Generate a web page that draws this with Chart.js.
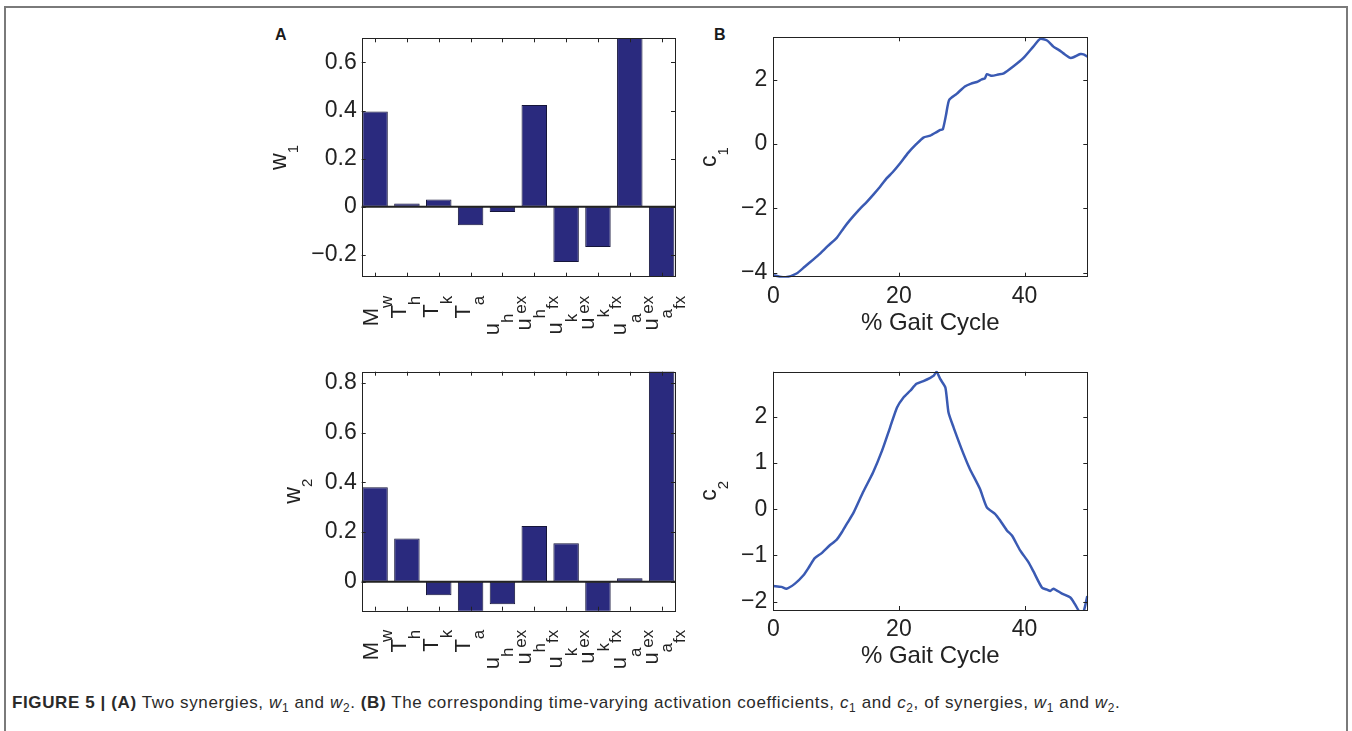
<!DOCTYPE html>
<html>
<head>
<meta charset="utf-8">
<script src="https://cdn.jsdelivr.net/npm/chart.js@4.4.1/dist/chart.umd.min.js"></script>
<style>
  html, body { margin: 0; padding: 0; background: #fff; }
  body { width: 1352px; height: 731px; position: relative; overflow: hidden;
         font-family: "Liberation Sans", Arial, Helvetica, sans-serif; }
  #frame { position: absolute; left: 4px; top: 6px; width: 1340px; height: 740px;
           border: 2px solid #7a7a7a; border-bottom: none; }
  canvas { position: absolute; }
  .panel { position: absolute; font-weight: bold; font-size: 16px; line-height: 16px; color: #1a1a1a; }
  #caption { position: absolute; left: 12px; top: 694px; font-size: 17px; line-height: 18px;
             color: #2a2a2a; white-space: nowrap; }
  #caption sub { font-size: 70%; vertical-align: baseline; position: relative; top: 0.3em; }
</style>
</head>
<body>
<div id="frame"></div>
<div class="panel" style="left:275px;top:27px">A</div>
<div class="panel" style="left:714px;top:27px">B</div>
<canvas id="w1" width="450" height="335" style="left:250px;top:15px"></canvas>
<canvas id="w2" width="450" height="335" style="left:250px;top:352px"></canvas>
<canvas id="c1" width="420" height="335" style="left:690px;top:15px"></canvas>
<canvas id="c2" width="420" height="335" style="left:690px;top:352px"></canvas>
<div id="caption"><b>FIGURE 5 | (A)</b> Two synergies, <i>w</i><sub>1</sub> and <i>w</i><sub>2</sub>. <b>(B)</b> The corresponding time-varying activation coefficients, <i>c</i><sub>1</sub> and <i>c</i><sub>2</sub>, of synergies, <i>w</i><sub>1</sub> and <i>w</i><sub>2</sub>.</div>

<script>
// synergy components (bar categories), written base_sub^sup
const categories = ['M_w', 'T_h', 'T_k', 'T_a', 'u_h^ex', 'u_h^fx', 'u_k^ex', 'u_k^fx', 'u_a^ex', 'u_a^fx'];
const w1 = [0.396, 0.014, 0.031, -0.076, -0.021, 0.423, -0.229, -0.167, 0.76, -0.34];
const w2 = [0.38, 0.174, -0.055, -0.15, -0.091, 0.224, 0.154, -0.14, 0.014, 0.9];

// activation coefficients vs % gait cycle
const gait1 = [0, 1, 2, 3.7, 5, 6.4, 7.4, 8.7, 10.1, 11.2, 12.2, 13.5, 14.9, 16, 17, 18, 19, 20.2, 21.5, 22.8,
  23.9, 25, 26, 26.6, 27, 27.5, 28, 29.2, 30.5, 31.5, 32.4, 33.2, 33.7, 34, 34.8, 35.8, 36.7, 38.2, 39.8, 41.4,
  42.5, 43.6, 44.6, 45.5, 46.2, 47.3, 47.8, 48.9, 49.4, 50];
const c1 = [-4.08, -4.13, -4.15, -4.03, -3.82, -3.59, -3.42, -3.17, -2.92, -2.62, -2.37, -2.08, -1.8, -1.56, -1.33,
  -1.08, -0.88, -0.6, -0.27, 0.0, 0.2, 0.26, 0.37, 0.44, 0.46, 0.9, 1.37, 1.56, 1.79, 1.88, 1.93, 2.01, 2.04, 2.17,
  2.12, 2.16, 2.2, 2.41, 2.67, 3.03, 3.27, 3.22, 3.03, 2.92, 2.82, 2.68, 2.7, 2.8, 2.79, 2.72];
const gait2 = [0, 1.3, 2.1, 3.45, 4.8, 5.7, 6.6, 7.7, 9, 10.1, 11, 11.7, 12.8, 14.3, 15.9, 17.3, 18.6, 19.7, 20.7,
  21.8, 22.8, 23.9, 25, 25.5, 26, 26.6, 27.4, 27.9, 28.7, 30.3, 31.3, 32.9, 34, 35.3, 36.1, 37.2, 38, 39.3, 40.6,
  41.4, 42.8, 43.6, 44.1, 44.6, 45.9, 47.3, 48.1, 48.9, 49.4, 50];
const c2 = [-1.66, -1.68, -1.72, -1.61, -1.43, -1.25, -1.06, -0.95, -0.78, -0.66, -0.48, -0.32, -0.07, 0.37, 0.8,
  1.26, 1.77, 2.2, 2.41, 2.56, 2.71, 2.77, 2.84, 2.88, 2.97, 2.81, 2.63, 2.09, 1.77, 1.19, 0.87, 0.44, 0.04, -0.1,
  -0.24, -0.46, -0.57, -0.89, -1.14, -1.34, -1.7, -1.74, -1.77, -1.72, -1.82, -1.91, -2.07, -2.25, -2.22, -1.88];

const FONT = '"Liberation Sans", Arial, Helvetica, sans-serif';
const INK = '#222';
const BAR = '#2a2a7e';
const LINE = '#3a5ab3';
Chart.defaults.font.family = FONT;
Chart.defaults.color = INK;

const fmt = v => (Math.round(v * 100) / 100).toString().replace('-', '\u2212');

function splitLabel(s) {
  const m = s.match(/^([^_^]+)(?:_([^_^]+))?(?:\^(.+))?$/);
  return [m[1], m[2], m[3]];
}

// text read bottom-to-top; dy moves a part toward the glyph bottom (screen right)
function rotText(ctx, x, y, parts, align) {
  ctx.save();
  ctx.translate(x, y);
  ctx.rotate(-Math.PI / 2);
  ctx.textBaseline = 'alphabetic';
  ctx.textAlign = 'left';
  let total = 0;
  for (const p of parts) {
    ctx.font = `${p.size}px ${FONT}`;
    p.w = ctx.measureText(p.t).width;
    total += p.w;
  }
  let pos = align === 'end' ? -total : -total / 2;
  for (const p of parts) {
    ctx.font = `${p.size}px ${FONT}`;
    ctx.fillText(p.t, pos, p.dy);
    pos += p.w;
  }
  ctx.restore();
}

const axesBox = {
  id: 'axesBox',
  afterDraw(chart, args, o) {
    const { ctx, chartArea: a, scales: { x, y } } = chart;
    ctx.save();
    ctx.fillStyle = INK;
    ctx.strokeStyle = INK;

    if (o.zeroLine) {
      const y0 = y.getPixelForValue(0);
      ctx.lineWidth = 2;
      ctx.beginPath(); ctx.moveTo(a.left, y0); ctx.lineTo(a.right, y0); ctx.stroke();
    }

    // inward tick marks, MATLAB style
    ctx.lineWidth = 1;
    ctx.beginPath();
    const xv = o.labels ? o.labels.map((_, i) => i) : x.ticks.map(t => t.value);
    for (const v of xv) {
      const px = Math.round(x.getPixelForValue(v)) + 0.5;
      ctx.moveTo(px, a.bottom); ctx.lineTo(px, a.bottom - 4);
      ctx.moveTo(px, a.top); ctx.lineTo(px, a.top + 4);
    }
    for (const t of y.ticks) {
      const py = Math.round(y.getPixelForValue(t.value)) + 0.5;
      ctx.moveTo(a.left, py); ctx.lineTo(a.left + 4, py);
      ctx.moveTo(a.right, py); ctx.lineTo(a.right - 4, py);
    }
    ctx.stroke();
    ctx.strokeRect(Math.round(a.left) + 0.5, Math.round(a.top) + 0.5,
      Math.round(a.right - a.left), Math.round(a.bottom - a.top));

    // category labels under bars
    if (o.labels) {
      const shift = { M: 2.5, T: -1, u: -3.7 };
      o.labels.forEach((lab, i) => {
        const [base, sub, sup] = splitLabel(lab);
        const parts = [{ t: base, size: 22, dy: 0 }];
        if (sub) parts.push({ t: sub, size: 17, dy: 14.5 });
        if (sup) parts.push({ t: sup, size: 17, dy: 27 });
        rotText(ctx, x.getPixelForValue(i) + (shift[base] || 0), a.bottom + 19, parts, 'end');
      });
    }

    // y title with subscript, placed left of the widest tick label
    ctx.font = `23px ${FONT}`;
    const widest = Math.max(...y.ticks.map(t => ctx.measureText(t.label).width));
    const bx = a.left - y.options.ticks.padding - widest - 25;
    rotText(ctx, bx, (a.top + a.bottom) / 2,
      [{ t: o.yTitle[0], size: 23, dy: 0 }, { t: o.yTitle[1], size: 15, dy: 12 }], 'center');

    if (o.xTitle) {
      ctx.font = `24px ${FONT}`;
      ctx.textAlign = 'center';
      ctx.textBaseline = 'alphabetic';
      ctx.fillText(o.xTitle, (a.left + a.right) / 2, a.bottom + 53);
    }
    ctx.restore();
  }
};

function yAxis(min, max, step, pad, width) {
  return {
    min, max,
    grid: { display: false, drawTicks: false },
    border: { display: false },
    ticks: { stepSize: step, includeBounds: false, padding: pad, font: { size: 23 }, color: INK, callback: fmt },
    afterFit(s) { s.width = width; }
  };
}

function barChart(id, values, yMin, yMax, padTop, height, title) {
  return new Chart(document.getElementById(id), {
    type: 'bar',
    data: {
      datasets: [{
        data: values.map((v, i) => ({ x: i, y: v })),
        backgroundColor: BAR, borderColor: '#15153a', borderWidth: 1, borderSkipped: false,
        barPercentage: 0.8, categoryPercentage: 1, clip: 0,
      }],
    },
    options: {
      responsive: false, animation: false, events: [],
      layout: { padding: { left: 0, top: padTop, right: 25, bottom: 0 } },
      plugins: {
        legend: { display: false }, tooltip: { enabled: false },
        axesBox: { labels: categories, zeroLine: true, yTitle: title },
      },
      scales: {
        x: {
          type: 'linear', min: -0.42, max: 9.42, offset: false,
          grid: { display: false, drawTicks: false }, border: { display: false },
          ticks: { display: false },
          afterFit(s) { s.height = height; },
        },
        y: yAxis(yMin, yMax, 0.2, 5, 111.7),
      },
    },
    plugins: [axesBox],
  });
}

function lineChart(id, xs, ys, yMin, yMax, step, padTop, height, title) {
  return new Chart(document.getElementById(id), {
    type: 'line',
    data: {
      datasets: [{
        data: xs.map((x, i) => ({ x, y: ys[i] })),
        borderColor: LINE, borderWidth: 2.5, pointRadius: 0, tension: 0.2, fill: false, clip: 1,
      }],
    },
    options: {
      responsive: false, animation: false, events: [],
      layout: { padding: { left: 0, top: padTop, right: 22.7, bottom: 0 } },
      plugins: {
        legend: { display: false }, tooltip: { enabled: false },
        axesBox: { yTitle: title, xTitle: '% Gait Cycle' },
      },
      scales: {
        x: {
          type: 'linear', min: 0, max: 50,
          grid: { display: false, drawTicks: false }, border: { display: false },
          ticks: { stepSize: 20, includeBounds: false, padding: 6, font: { size: 23 }, color: INK, maxRotation: 0 },
          afterFit(s) { s.height = height; },
        },
        y: yAxis(yMin, yMax, step, 6, 83.3),
      },
    },
    plugins: [axesBox],
  });
}

barChart('w1', w1, -0.29, 0.7, 23.3, 73.3, ['w', '1']);
barChart('w2', w2, -0.117, 0.845, 19.7, 76.3, ['w', '2']);
lineChart('c1', gait1, c1, -4.13, 3.32, 2, 22.3, 73.3, ['c', '1']);
lineChart('c2', gait2, c2, -2.18, 2.97, 1, 19, 77, ['c', '2']);

// stretch the caption to the printed line length
const cap = document.getElementById('caption');
const spare = 1108 - cap.getBoundingClientRect().width;
cap.style.letterSpacing = (spare / cap.textContent.length).toFixed(2) + 'px';
</script>
</body>
</html>
